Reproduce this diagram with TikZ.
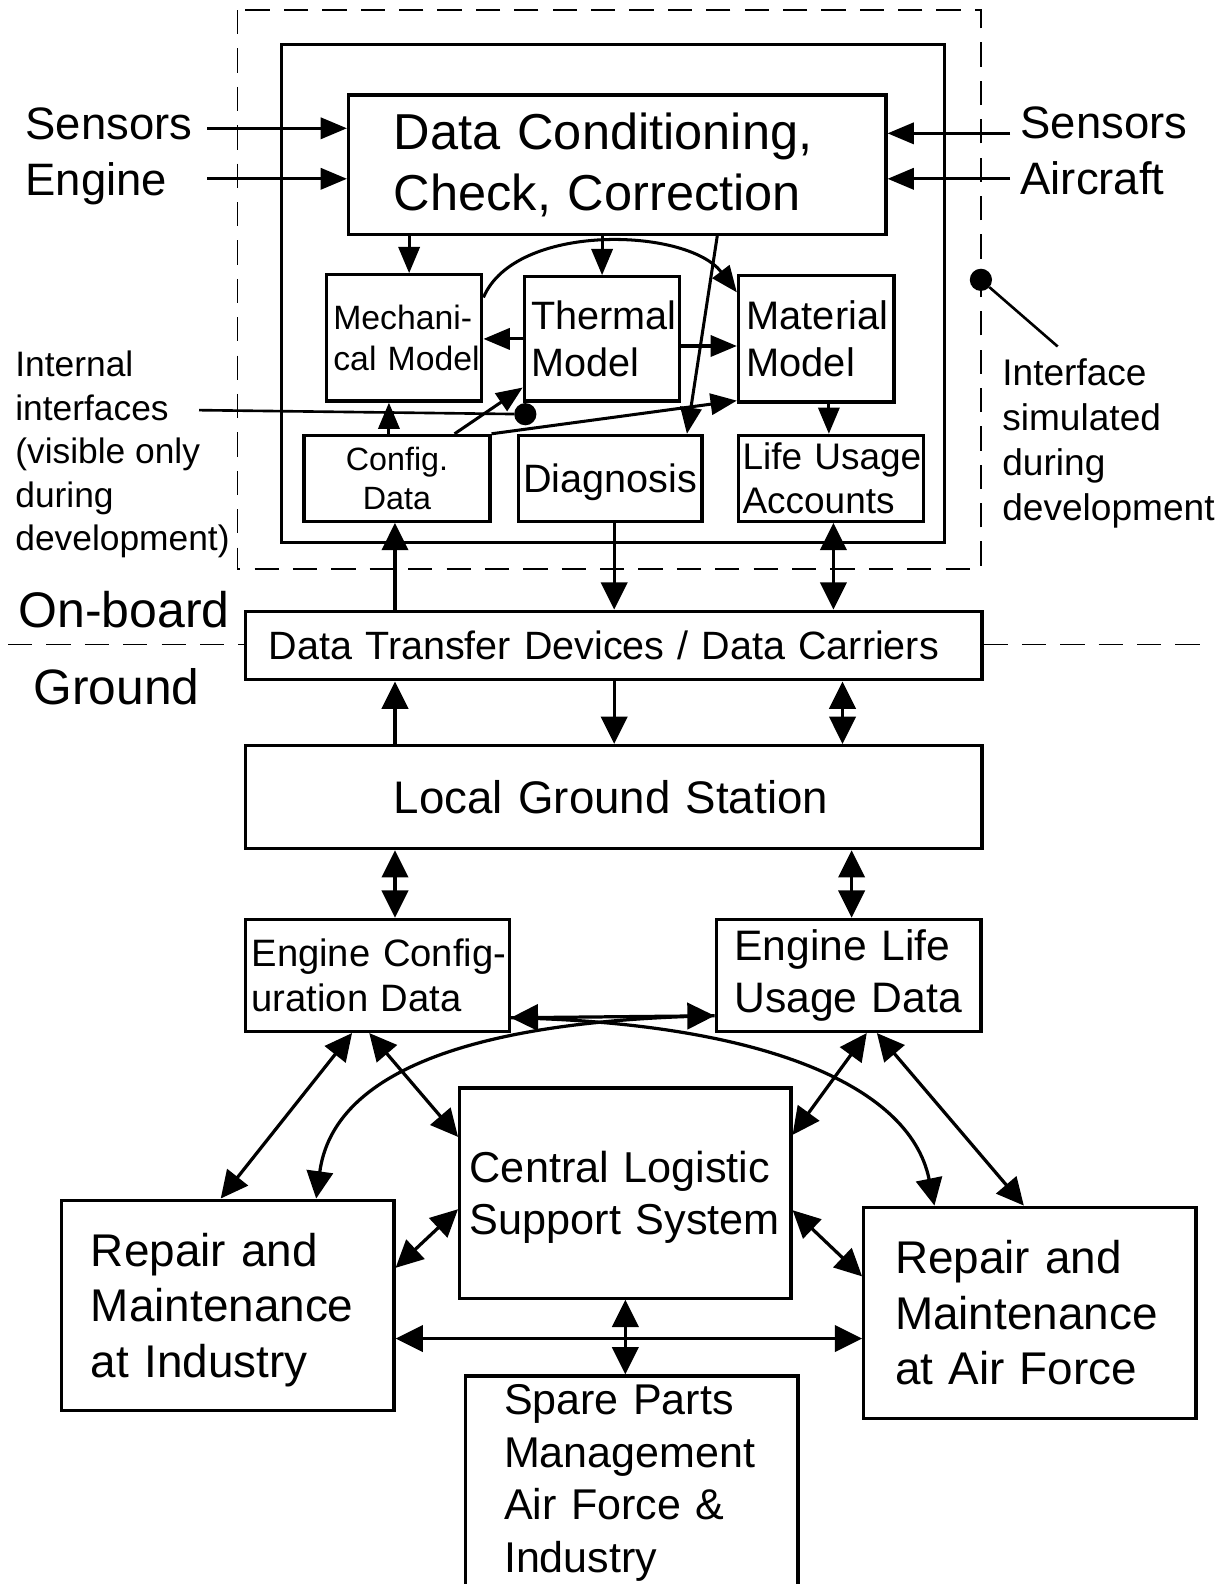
\documentclass[tikz,border=0pt]{standalone}
\usepackage{fontspec}
\setmainfont{Liberation Sans}
\usetikzlibrary{arrows.meta,calc}

\begin{document}
\begin{tikzpicture}[x=1pt,y=-1pt,
  box/.style={draw,line width=3.2pt,inner ysep=0pt},
  txt/.style={inner sep=0pt,align=left},
  sarr/.style={line width=3pt,-{Triangle[length=26pt,width=21pt]}},
  arr/.style={line width=3.2pt,-{Triangle[length=27pt,width=26pt]}},
  darr/.style={line width=3.2pt,{Triangle[length=27pt,width=26pt]}-{Triangle[length=27pt,width=26pt]}},
  dashedline/.style={line width=1.6pt,dash pattern=on 24pt off 14pt},
  dot/.style={circle,fill,inner sep=0pt,minimum size=22pt},
  fs/.style 2 args={font=\fontsize{#1}{#2}\selectfont}
]
\fill[white] (0,0) rectangle (1214,1568);
\useasboundingbox (0,0) rectangle (1214,1568);

% development frame and on-board unit
\draw[dashedline] (235,10) rectangle (971,563);
\draw[line width=3.2pt] (279,44) rectangle (935,537);

% on-board modules
\node[box,fs={50}{60},minimum width=532pt,minimum height=138pt,inner xsep=45pt,text width=442pt,align=left] (dc) at (611,163) {\mbox{Data Conditioning,}\\\mbox{Check, Correction}};
\node[box,fs={33.4}{41},minimum width=154pt,minimum height=125pt,inner xsep=7pt,text width=140pt,align=left] (mech) at (400,334.5) {\mbox{Mechani-}\\\mbox{cal Model}};
\node[box,fs={39.2}{47},minimum width=154pt,minimum height=123pt,inner xsep=7pt,text width=140pt,align=left] (therm) at (596,335.5) {\mbox{Thermal}\\\mbox{Model}};
\node[box,fs={39.4}{47},minimum width=154pt,minimum height=125pt,inner xsep=8pt,text width=138pt,align=left] (mat) at (808,335.5) {\mbox{Material}\\\mbox{Model}};
\node[box,fs={31.9}{39},minimum width=184pt,minimum height=85pt,inner xsep=0pt,text width=184pt,align=center] (cfg) at (393,473.5) {Config.\\Data};
\node[box,fs={39.2}{47},minimum width=182pt,minimum height=85pt,inner xsep=0pt,text width=182pt,align=center] (diag) at (604,473.5) {\smash{Diagnosis}\rule{0pt}{28pt}};
\node[box,fs={36.6}{43},minimum width=183pt,minimum height=85pt,inner xsep=4pt,text width=175pt,align=left] (life) at (822.5,473.5) {\mbox{Life Usage}\\\mbox{Accounts}};

% transfer and ground
\node[box,fs={39.1}{47},minimum width=729pt,minimum height=68pt,inner xsep=23pt,text width=683pt,align=left] (dtd) at (607.5,639) {\mbox{Data Transfer Devices / Data Carriers}};
\node[box,fs={45.2}{54},minimum width=729pt,minimum height=102pt,inner xsep=147pt,text width=435pt,align=left] (lgs) at (607.5,789) {\mbox{Local Ground Station}};
\node[box,fs={37.8}{45},minimum width=261pt,minimum height=111pt,inner xsep=6pt,text width=249pt,align=left] (ecd) at (373.5,965.5) {\mbox{Engine Config-}\\\mbox{uration Data}};
\node[box,fs={42.2}{52},minimum width=262pt,minimum height=111pt,inner xsep=18pt,text width=226pt,align=left] (eld) at (840,965.5) {\mbox{Engine Life}\\\mbox{Usage Data}};
\node[box,fs={42.8}{52},minimum width=328pt,minimum height=208pt,inner xsep=10pt,text width=308pt,align=left] (clss) at (619,1181) {\mbox{Central Logistic}\\\smash{Support System}};
\node[box,fs={45.4}{55},minimum width=329pt,minimum height=208pt,inner xsep=29pt,text width=271pt,align=left] (rmi) at (225.5,1292) {\mbox{Repair and}\\\mbox{Maintenance}\\\smash{at Industry}};
\node[box,fs={45.4}{55},minimum width=329pt,minimum height=209pt,inner xsep=31pt,text width=267pt,align=left] (rma) at (1019.5,1299.5) {\mbox{Repair and}\\\mbox{Maintenance}\\\mbox{at Air Force}};
\node[box,fs={42.6}{52},minimum width=329pt,minimum height=212pt,inner xsep=38pt,text width=253pt,align=left] (spare) at (625.5,1468) {\mbox{Spare Parts}\\\mbox{Management}\\\mbox{Air Force \&}\\\mbox{Industry}};

% on-board / ground separation
\coordinate (sepL) at (8,638);
\coordinate (sepR) at (1200,638);
\draw[dashedline] (sepL) -- (sepL -| dtd.west);
\draw[dashedline] (dtd.east |- sepR) -- (sepR);

% free labels
\node[txt,fs={45}{55},anchor=west] (sensE) at (25,155) {Sensors\\Engine};
\node[txt,fs={45}{55},anchor=west] (sensA) at (1010,149.5) {Sensors\\Aircraft};
\node[txt,fs={35}{43},anchor=west] (intif) at (15,450) {Internal\\interfaces\\(visible only\\during\\development)};
\node[txt,fs={36.7}{44.7},anchor=west] (ifsim) at (992,439) {Interface\\simulated\\during\\development};
\node[txt,fs={49.5}{55},anchor=west] (onb) at (18,603) {On-board};
\node[txt,fs={49.2}{55},anchor=west] (gnd) at (33,680) {Ground};

% interface markers
\node[dot] (dotA) at (520,410) {};
\node[dot] (dotB) at (971,277) {};
\coordinate (ipt) at (197,406);
\coordinate (ifpt) at (1047,343);
\draw[line width=2.6pt] (ipt) -- (dotA);
\draw[line width=2.6pt] (dotB) -- (ifpt);

% sensor inputs
\coordinate (se1) at (205,127);
\coordinate (se2) at (205,177);
\coordinate (sa1) at (1000,132);
\coordinate (sa2) at (1000,177);
\draw[sarr] (se1) -- (se1 -| dc.west);
\draw[sarr] (se2) -- (se2 -| dc.west);
\draw[sarr] (sa1) -- (sa1 -| dc.east);
\draw[sarr] (sa2) -- (sa2 -| dc.east);

% internal data flow
\coordinate (m1) at ([xshift=5pt]mech.north);
\draw[sarr] (m1 |- dc.south) -- (m1);
\draw[sarr] (therm.north |- dc.south) -- (therm.north);
\coordinate (c0) at ([yshift=-24pt]mech.north east);
\coordinate (c3) at ([yshift=-18pt]mat.north west);
\draw[sarr] (c0) .. controls (510,220) and (680,225) .. (c3);
\draw[sarr] (therm.west) -- (therm.west -| mech.east);
\coordinate (t1) at ([yshift=-7pt]therm.east);
\draw[sarr] (t1) -- (t1 -| mat.west);
\coordinate (d0) at ([xshift=99pt]dc.south);
\coordinate (d1) at ([xshift=76pt]diag.north);
\draw[sarr] (d0) -- (d1);
\coordinate (l1) at ([xshift=-2pt]life.north);
\draw[sarr] (l1 |- mat.south) -- (l1);
\coordinate (k1) at ([xshift=-8pt]cfg.north);
\draw[sarr] (k1) -- (k1 |- mech.south);
\coordinate (k2) at ([xshift=57pt]cfg.north);
\coordinate (k3) at ([yshift=15pt]therm.south west);
\draw[sarr] (k2) -- (k3);
\coordinate (k4) at ([yshift=3pt]mat.south west);
\draw[sarr] (cfg.north east) -- (k4);

% on-board to ground links
\coordinate (xa) at (391,0);
\coordinate (xb) at (608,0);
\coordinate (xc) at (834,0);
\coordinate (xd) at (843,0);
\coordinate (xe) at (825,0);
\draw[arr] (dtd.north -| xa) -- (cfg.south -| xa);
\draw[arr] (diag.south -| xb) -- (dtd.north -| xb);
\draw[darr] (life.south -| xe) -- (dtd.north -| xe);
\draw[arr] (lgs.north -| xa) -- (dtd.south -| xa);
\draw[arr] (dtd.south -| xb) -- (lgs.north -| xb);
\draw[darr] (dtd.south -| xc) -- (lgs.north -| xc);
\draw[darr] (lgs.south -| xa) -- (ecd.north -| xa);
\draw[darr] (lgs.south -| xd) -- (eld.north -| xd);

% ground network
\coordinate (h0) at ([yshift=-42pt]ecd.east);
\coordinate (h1) at ([yshift=-40pt]eld.west);
\draw[darr] (h0) -- (h1);
\coordinate (r0) at ([xshift=87.5pt]rmi.north);
\coordinate (r1) at ([xshift=-94.5pt]rma.north);
\draw[arr] (h1) .. controls (470,1010) and (330,1060) .. (r0);
\draw[arr] (h0) .. controls (743,1012) and (900,1070) .. (r1);
\coordinate (e1) at ([xshift=-25pt]ecd.south);
\coordinate (e2) at ([xshift=-7pt]rmi.north);
\draw[darr] (e1) -- (e2);
\coordinate (e3) at ([xshift=-8pt]ecd.south);
\coordinate (e4) at ([yshift=-50pt]clss.north west);
\draw[darr] (e3) -- (e4);
\coordinate (f1) at ([xshift=18pt]eld.south);
\coordinate (f2) at ([yshift=-48pt]clss.north east);
\draw[darr] (f1) -- (f2);
\coordinate (f3) at ([xshift=28pt]eld.south);
\coordinate (f4) at ([xshift=-6pt]rma.north);
\draw[darr] (f3) -- (f4);
\coordinate (g1) at ([yshift=-16pt]clss.west);
\coordinate (g2) at ([yshift=37pt]rmi.east);
\draw[darr] (g1) -- (g2);
\coordinate (g3) at ([yshift=-17pt]clss.east);
\coordinate (g4) at ([yshift=36pt]rma.west);
\draw[darr] (g3) -- (g4);
\coordinate (g5) at ([yshift=-33pt]rmi.east);
\draw[darr] (g5) -- (g5 -| rma.west);
\draw[darr] (clss.south) -- (clss.south |- spare.north);
\end{tikzpicture}
\end{document}
